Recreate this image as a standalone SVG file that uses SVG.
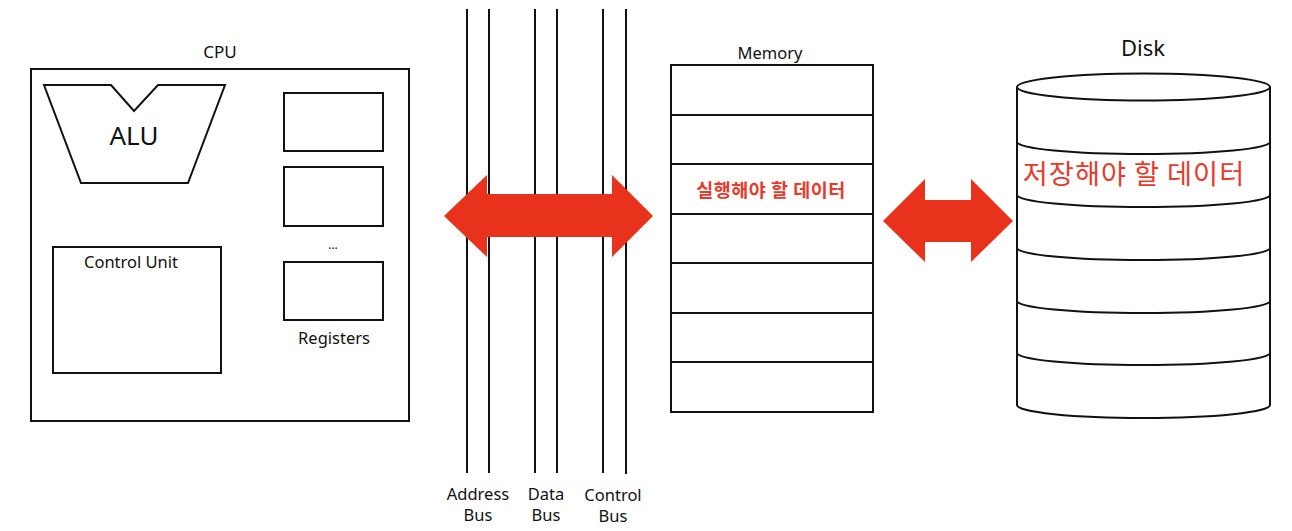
<svg xmlns="http://www.w3.org/2000/svg" width="1292" height="531" viewBox="0 0 1292 531">
<style>
.s{fill:#fff;stroke:#111;stroke-width:2}
.l{fill:none;stroke:#111;stroke-width:2}
.t{font-family:"Noto Sans","Noto Sans CJK KR",sans-serif;fill:#111;text-anchor:middle;font-size:16.5px}
.r{font-family:"Noto Sans CJK KR",sans-serif;fill:#e8392a;text-anchor:middle}
.a{fill:#e8321c}
</style>
<rect width="1292" height="531" fill="#fff"/>
<g id="cpu">
<text class="t" x="220" y="58" style="font-size:17px">CPU</text>
<rect class="s" x="31" y="69" width="378" height="352"/>
<g id="alu">
<path class="s" d="M44,85 L111,85 L134,111 L158,85 L225,85 L188,183 L81,183 Z"/>
<text class="t" x="134" y="145" style="font-size:26px">ALU</text>
</g>
<g id="control-unit">
<rect class="s" x="53" y="247" width="168" height="126"/>
<text class="t" x="131" y="268">Control Unit</text>
</g>
<g id="registers">
<rect class="s" x="284" y="93" width="99" height="58"/>
<rect class="s" x="284" y="167" width="99" height="59"/>
<text class="t" x="333" y="249" style="font-size:12px">...</text>
<rect class="s" x="284" y="262" width="99" height="58"/>
<text class="t" x="334" y="344">Registers</text>
</g>
</g>
<g id="buses">
<line class="l" x1="467" y1="9" x2="467" y2="473"/>
<line class="l" x1="489" y1="9" x2="489" y2="473"/>
<line class="l" x1="535" y1="9" x2="535" y2="473"/>
<line class="l" x1="557" y1="9" x2="557" y2="473"/>
<line class="l" x1="603" y1="9" x2="603" y2="473"/>
<line class="l" x1="626" y1="9" x2="626" y2="474"/>
<text class="t"><tspan x="478" y="500">Address</tspan><tspan x="478" y="521">Bus</tspan></text>
<text class="t"><tspan x="546" y="500">Data</tspan><tspan x="546" y="521">Bus</tspan></text>
<text class="t"><tspan x="613" y="501">Control</tspan><tspan x="613" y="522">Bus</tspan></text>
</g>
<g id="connectors">
<path class="a" d="M444,216 L487,175 L487,194 L612,194 L612,175 L653,216 L612,257 L612,237 L487,237 L487,257 Z"/>
<path class="a" d="M883,221 L925,179 L925,200 L971,200 L971,179 L1013,221 L971,262 L971,242 L925,242 L925,262 Z"/>
</g>
<g id="memory">
<text class="t" x="770" y="59">Memory</text>
<rect class="s" x="671" y="65" width="202" height="347"/>
<line class="l" x1="671" y1="115" x2="873" y2="115"/>
<line class="l" x1="671" y1="164" x2="873" y2="164"/>
<line class="l" x1="671" y1="214" x2="873" y2="214"/>
<line class="l" x1="671" y1="263" x2="873" y2="263"/>
<line class="l" x1="671" y1="313" x2="873" y2="313"/>
<line class="l" x1="671" y1="362" x2="873" y2="362"/>
<text class="r" x="771" y="197" font-size="18.5" font-weight="bold" letter-spacing="0.5">실행해야 할 데이터</text>
</g>
<g id="disk">
<text class="t" x="1143" y="56" style="font-size:22px">Disk</text>
<path class="s" d="M1017,87 L1017,405 A126.5,13 0 0 0 1270,405 L1270,87"/>
<ellipse class="s" cx="1143.5" cy="87" rx="126.5" ry="13.5"/>
<path class="l" d="M1017,142 A126.5,12 0 0 0 1270,142"/>
<path class="l" d="M1017,195 A126.5,12 0 0 0 1270,195"/>
<path class="l" d="M1017,248 A126.5,12 0 0 0 1270,248"/>
<path class="l" d="M1017,301 A126.5,12 0 0 0 1270,301"/>
<path class="l" d="M1017,353 A126.5,12 0 0 0 1270,353"/>
<text class="r" x="1134" y="184" font-size="27.2" letter-spacing="1">저장해야 할 데이터</text>
</g>
</svg>
